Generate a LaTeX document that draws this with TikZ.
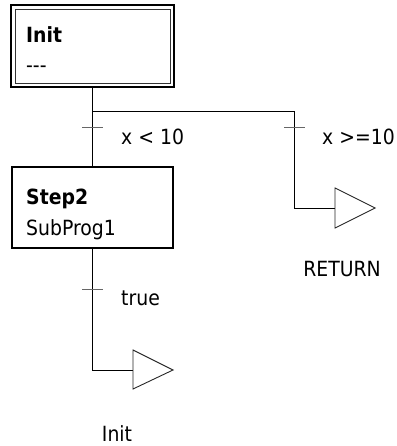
\documentclass[tikz,border=0pt]{standalone}
\usepackage{fontspec}
\setmainfont[FakeStretch=0.9]{DejaVu Sans}
\begin{document}
\begin{tikzpicture}[x=1bp,y=-1bp,
  txt/.style={inner sep=0pt,anchor=base west,font=\fontsize{21}{25}\selectfont},
  ctxt/.style={inner sep=0pt,anchor=base,font=\fontsize{21}{25}\selectfont},
  wire/.style={line width=0.9bp,black},
  tick/.style={line width=0.9bp,black!60},
  tri/.style={line width=0.9bp,black!85,line join=miter}]
\useasboundingbox (0,0) rectangle (396,446);
% Init step (double frame)
\draw[line width=1.8bp] (11,5) rectangle (174,87);
\draw[line width=0.9bp,black!80] (15,9) rectangle (170,83);
\node[txt,font=\fontsize{21}{25}\selectfont\bfseries] (initT) at (26,43) {Init};
\node[txt] (initA) at (26,73) {{-}{-}{-}};
\coordinate (initB) at (92,87);
% Step2
\draw[line width=1.6bp] (12,167) rectangle (173,248);
\node[txt,font=\fontsize{21}{25}\selectfont\bfseries] (stepT) at (26,205) {Step2};
\node[txt] (stepA) at (26,235) {SubProg1};
\coordinate (stepTop) at (92,167);
\coordinate (stepB) at (92,248);
% branch
\coordinate (br) at (92,111);
\coordinate (brR) at (294,111);
\draw[wire] (initB) -- (stepTop);
\draw[wire] (br) -- (brR) -- (294,208) -- (335,208);
% ticks
\draw[tick] (82,127) -- (103,127);
\draw[tick] (284,127) -- (305,127);
\node[txt] (c1) at (121,145) {x < 10};
\node[txt] (c2) at (322,145) {x >=10};
% jump RETURN
\draw[tri] (335,188) -- (375,208) -- (335,228) -- cycle;
\node[ctxt] (ret) at (342,276) {RETURN};
% bottom
\draw[wire] (stepB) -- (92,370) -- (133,370);
\draw[tick] (82,289) -- (103,289);
\node[txt] (c3) at (121,305) {true};
\draw[tri] (133,350) -- (173,370) -- (133,389) -- cycle;
\node[ctxt] (ji) at (117,441) {Init};
\end{tikzpicture}
\end{document}
